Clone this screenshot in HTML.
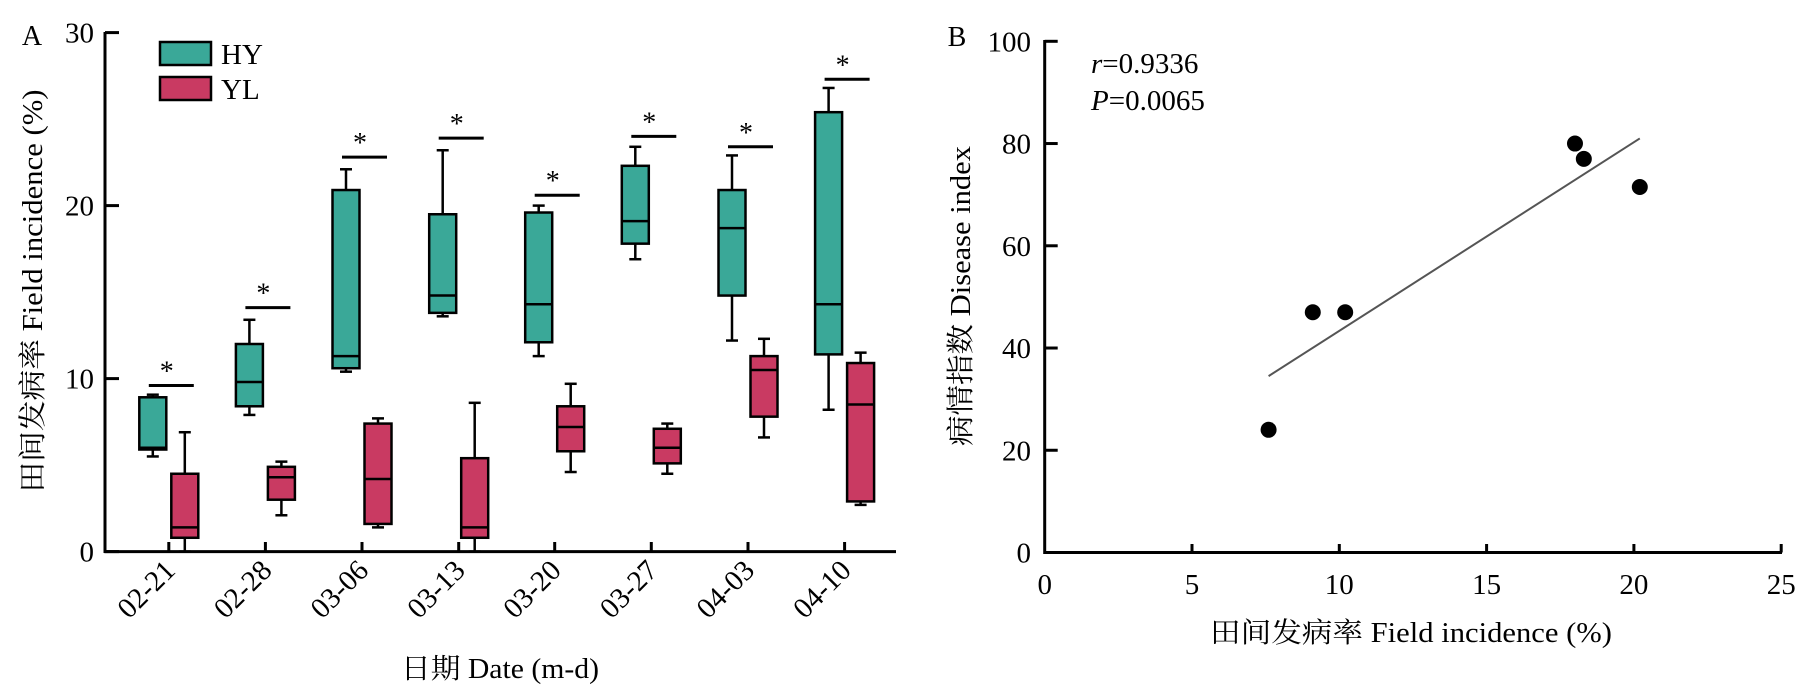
<!DOCTYPE html>
<html><head><meta charset="utf-8"><style>
html,body{margin:0;padding:0;background:#fff;}
svg{display:block;font-family:"Liberation Serif","Noto Serif CJK SC",serif;}
</style></head><body>
<svg id="s" width="1810" height="697" viewBox="0 0 1810 697" xmlns="http://www.w3.org/2000/svg">
<rect width="1810" height="697" fill="#fff"/>
</svg>
<script>
const s=document.getElementById('s');let h='';
const Y=v=>551.6-v*17.3;
h+=`<line x1="105" y1="32" x2="105" y2="553" stroke="#000" stroke-width="3"/>`;
h+=`<line x1="104" y1="551.6" x2="896" y2="551.6" stroke="#000" stroke-width="3"/>`;
[0,10,20,30].forEach(v=>{h+=`<line x1="105" y1="${Y(v)}" x2="119" y2="${Y(v)}" stroke="#000" stroke-width="3"/>`;
h+=`<text x="94" y="${Y(v)+10}" font-size="29" text-anchor="end">${v}</text>`;});
h+=`<text x="32" y="45" font-size="28" text-anchor="middle">A</text>`;
const ticks=[168.8,265.4,362,458.7,554.7,651.3,748,844.6];
const labs=['02-21','02-28','03-06','03-13','03-20','03-27','04-03','04-10'];
const HY=[[9.07,8.92,6.0,5.9,5.5],[13.4,12.0,9.8,8.4,7.9],[22.1,20.9,11.3,10.6,10.4],[23.2,19.5,14.8,13.8,13.6],[20.0,19.6,14.3,12.1,11.3],[23.4,22.3,19.1,17.8,16.9],[22.9,20.9,18.7,14.8,12.2],[26.8,25.4,14.3,11.4,8.2]];
const YL=[[6.9,4.5,1.4,0.8,0],[5.2,4.9,4.3,3.0,2.1],[7.7,7.4,4.2,1.6,1.4],[8.6,5.4,1.4,0.8,0],[9.7,8.4,7.2,5.8,4.6],[7.4,7.1,6.0,5.1,4.5],[12.3,11.3,10.5,7.8,6.6],[11.5,10.9,8.5,2.9,2.7]];
const star=[9.6,14.1,22.8,23.9,20.6,24.0,23.4,27.3];
function box(c,d,col){const w=13.5;let r='';
r+=`<line x1="${c}" y1="${Y(d[0])}" x2="${c}" y2="${Y(d[1])}" stroke="#000" stroke-width="2.5"/>`;
r+=`<line x1="${c}" y1="${Y(d[3])}" x2="${c}" y2="${Y(d[4])}" stroke="#000" stroke-width="2.5"/>`;
r+=`<line x1="${c-6}" y1="${Y(d[0])}" x2="${c+6}" y2="${Y(d[0])}" stroke="#000" stroke-width="2.5"/>`;
r+=`<line x1="${c-6}" y1="${Y(d[4])}" x2="${c+6}" y2="${Y(d[4])}" stroke="#000" stroke-width="2.5"/>`;
r+=`<rect x="${c-w}" y="${Y(d[1])}" width="${2*w}" height="${Y(d[3])-Y(d[1])}" fill="${col}" stroke="#000" stroke-width="2.5"/>`;
r+=`<line x1="${c-w}" y1="${Y(d[2])}" x2="${c+w}" y2="${Y(d[2])}" stroke="#000" stroke-width="2.5"/>`;return r;}
ticks.forEach((t,i)=>{
h+=`<line x1="${t}" y1="551.6" x2="${t}" y2="542" stroke="#000" stroke-width="3"/>`;
h+=box(t-16,HY[i],'#3aa898');h+=box(t+16,YL[i],'#c93a62');
h+=`<line x1="${t-20}" y1="${Y(star[i])}" x2="${t+25}" y2="${Y(star[i])}" stroke="#000" stroke-width="3"/>`;
h+=`<text x="${t-2}" y="${Y(star[i])-5}" font-size="28" text-anchor="middle">*</text>`;
h+=`<text transform="translate(${t+8},572) rotate(-45)" font-size="29" text-anchor="end">${labs[i]}</text>`;});
h+=`<rect x="160" y="42" width="51" height="23" fill="#3aa898" stroke="#000" stroke-width="2.5"/>`;
h+=`<rect x="160" y="77" width="51" height="23" fill="#c93a62" stroke="#000" stroke-width="2.5"/>`;
h+=`<text x="221" y="64" font-size="29">HY</text><text x="221" y="99" font-size="29">YL</text>`;
h+=`<text x="500" y="678" font-size="28" text-anchor="middle" textLength="198" lengthAdjust="spacingAndGlyphs">日期 Date (m-d)</text>`;
h+=`<text transform="translate(42,291) rotate(-90)" font-size="28" text-anchor="middle" textLength="403" lengthAdjust="spacingAndGlyphs">田间发病率 Field incidence (%)</text>`;
const X0=1044.7,BX=v=>X0+v*29.46,BY=v=>552.5-v*5.112;
h+=`<line x1="${X0}" y1="40" x2="${X0}" y2="554" stroke="#000" stroke-width="3"/>`;
h+=`<line x1="${X0-1}" y1="552.5" x2="1782" y2="552.5" stroke="#000" stroke-width="3"/>`;
[0,20,40,60,80,100].forEach(v=>{h+=`<line x1="${X0}" y1="${BY(v)}" x2="${X0+13}" y2="${BY(v)}" stroke="#000" stroke-width="3"/>`;
h+=`<text x="1031" y="${BY(v)+10}" font-size="29" text-anchor="end">${v}</text>`;});
[0,5,10,15,20,25].forEach(v=>{if(v>0)h+=`<line x1="${BX(v)}" y1="552.5" x2="${BX(v)}" y2="544" stroke="#000" stroke-width="3"/>`;
h+=`<text x="${BX(v)}" y="594" font-size="29" text-anchor="middle">${v}</text>`;});
h+=`<line x1="${BX(7.6)}" y1="${BY(34.5)}" x2="${BX(20.2)}" y2="${BY(81)}" stroke="#555" stroke-width="2"/>`;
[[7.6,24],[9.1,47],[10.2,47],[18,80],[18.3,77],[20.2,71.5]].forEach(p=>{h+=`<circle cx="${BX(p[0])}" cy="${BY(p[1])}" r="8" fill="#000"/>`;});
h+=`<text x="957" y="46" font-size="28" text-anchor="middle">B</text>`;
h+=`<text x="1091" y="73" font-size="29"><tspan font-style="italic">r</tspan>=0.9336</text>`;
h+=`<text x="1091" y="110" font-size="29"><tspan font-style="italic">P</tspan>=0.0065</text>`;
h+=`<text x="1411" y="642" font-size="28" text-anchor="middle" textLength="402" lengthAdjust="spacingAndGlyphs">田间发病率 Field incidence (%)</text>`;
h+=`<text transform="translate(970,296) rotate(-90)" font-size="28" text-anchor="middle" textLength="300" lengthAdjust="spacingAndGlyphs">病情指数 Disease index</text>`;
s.innerHTML+=h;
</script>
</body></html>
